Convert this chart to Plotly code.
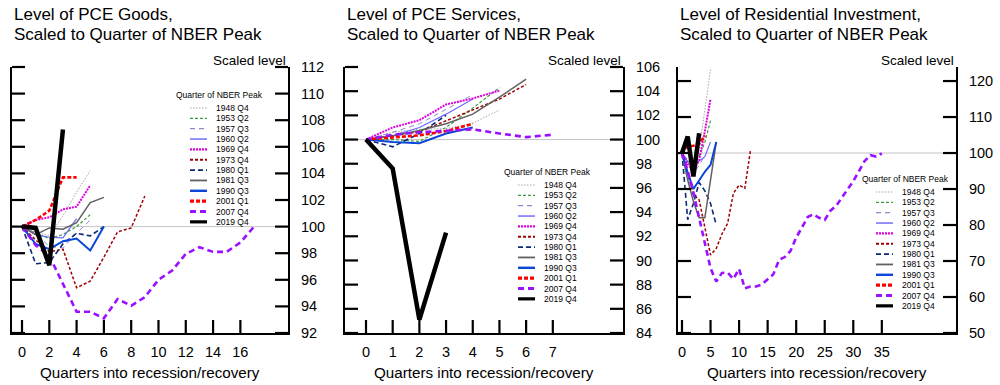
import plotly.graph_objects as go

# ---------------- data ----------------
PEAKS = ["1948 Q4", "1953 Q2", "1957 Q3", "1960 Q2", "1969 Q4", "1973 Q4",
         "1980 Q1", "1981 Q3", "1990 Q3", "2001 Q1", "2007 Q4", "2019 Q4"]

# PCE goods, scaled level (peak quarter = 100), by quarter into recession/recovery
GOODS_1948Q4 = [100, 99.6, 99.3, 100.8, 102.6, 104.2]
GOODS_1953Q2 = [100, 99.5, 99.1, 99.4, 100.0, 100.9]
GOODS_1957Q3 = [100, 99.5, 98.5, 98.4, 99.5, 100.5]
GOODS_1960Q2 = [100, 99.4, 99.2, 99.15, 100.6]
GOODS_1969Q4 = [100, 100.5, 100.7, 101.3, 101.5, 103.1]
GOODS_1973Q4 = [100, 99.0, 98.1, 98.3, 95.4, 95.9, 97.7, 99.6, 99.9, 102.3]
GOODS_1980Q1 = [100, 97.2, 97.3, 98.7, 99.5, 99.3, 100.0]
GOODS_1981Q3 = [100, 99.4, 99.9, 99.8, 100.3, 101.8, 102.2]
GOODS_1990Q3 = [100, 98.7, 98.3, 98.9, 99.1, 98.2, 100.0]
GOODS_2001Q1 = [100, 100.5, 101.2, 103.7, 103.7]
GOODS_2007Q4 = [100, 98.6, 97.8, 95.7, 93.6, 93.6, 93.1, 94.55, 94.05, 94.7, 96.0,
                96.7, 97.95, 98.45, 98.1, 98.1, 98.8, 100.0]
GOODS_2019Q4 = [100, 99.9, 97.1, 107.3]

# PCE services
SERV_1948Q4 = [100, 100.6, 100.85, 100.9, 101.35, 102.45]
SERV_1953Q2 = [100, 100.0, 99.85, 101.0, 102.6, 104.3]
SERV_1957Q3 = [100, 100.6, 101.3, 102.5, 103.7]
SERV_1960Q2 = [100, 100.3, 101.0, 102.1, 103.35]
SERV_1969Q4 = [100, 101.0, 101.6, 102.9, 103.4, 104.05]
SERV_1973Q4 = [100, 100.3, 100.65, 101.55, 102.45, 103.35, 104.55]
SERV_1980Q1 = [100, 99.4, 100.5, 102.0]
SERV_1981Q3 = [100, 100.3, 100.75, 101.3, 102.1, 103.5, 105.0]
SERV_1990Q3 = [100, 99.8, 99.7, 100.5, 101.0]
SERV_2001Q1 = [100, 100.2, 100.35, 100.7, 101.3]
SERV_2007Q4 = [100, 100.4, 100.6, 100.75, 100.85, 100.5, 100.2, 100.4]
SERV_2019Q4 = [100, 97.6, 85.1, 92.3]

# Residential investment
RES_1948Q4 = [100, 97.5, 95.0, 100.8, 111.4, 123.2]
RES_1953Q2 = [100, 98.0, 97.0, 99.0, 103.0, 109.0]
RES_1957Q3 = [100, 96.0, 94.5, 96.5, 99.5]
RES_1960Q2 = [100, 97.6, 97.0, 97.8, 99.0, 103.1]
RES_1969Q4 = [100, 97.0, 95.0, 98.0, 106.0, 115.0]
RES_1973Q4 = [100, 94.0, 88.5, 87.0, 79.0, 71.7, 73.5, 77.5, 80.5, 88.8, 91.1, 90.2, 100.8]
RES_1980Q1 = [100, 81.5, 86.0, 91.8, 89.5, 86.0, 80.0]
RES_1981Q3 = [100, 92.5, 86.5, 82.0, 82.0, 92.5, 103.0]
RES_1990Q3 = [100, 94.5, 90.0, 92.5, 94.8, 96.7, 103.1]
RES_2001Q1 = [100, 101.9, 102.0, 102.5, 104.9]
RES_2007Q4 = [100, 95.0, 89.0, 82.0, 75.0, 68.0, 64.3, 66.7, 66.8, 65.0, 67.8, 62.4,
              62.9, 62.9, 63.5, 64.8, 66.3, 70.3, 71.1, 72.8, 76.5, 79.3, 82.2, 83.0,
              82.0, 81.4, 84.0, 85.3, 87.5, 89.8, 92.2, 95.0, 97.8, 99.4, 99.0, 99.9]
RES_2019Q4 = [100, 104.6, 93.5, 105.5]

X_TICKS_GOODS = [0, 2, 4, 6, 8, 10, 12, 14, 16]
Y_TICKS_GOODS = [92, 94, 96, 98, 100, 102, 104, 106, 108, 110, 112]
X_TICKS_SERV = [0, 1, 2, 3, 4, 5, 6, 7]
Y_TICKS_SERV = [84, 86, 88, 90, 92, 94, 96, 98, 100, 102, 104, 106]
X_TICKS_RES = [0, 5, 10, 15, 20, 25, 30, 35]
Y_TICKS_RES = [50, 60, 70, 80, 90, 100, 110, 120]

GOODS = [GOODS_1948Q4, GOODS_1953Q2, GOODS_1957Q3, GOODS_1960Q2, GOODS_1969Q4, GOODS_1973Q4,
         GOODS_1980Q1, GOODS_1981Q3, GOODS_1990Q3, GOODS_2001Q1, GOODS_2007Q4, GOODS_2019Q4]
SERV = [SERV_1948Q4, SERV_1953Q2, SERV_1957Q3, SERV_1960Q2, SERV_1969Q4, SERV_1973Q4,
        SERV_1980Q1, SERV_1981Q3, SERV_1990Q3, SERV_2001Q1, SERV_2007Q4, SERV_2019Q4]
RES = [RES_1948Q4, RES_1953Q2, RES_1957Q3, RES_1960Q2, RES_1969Q4, RES_1973Q4,
       RES_1980Q1, RES_1981Q3, RES_1990Q3, RES_2001Q1, RES_2007Q4, RES_2019Q4]

# ---------------- styles ----------------
STYLES = [
    dict(color="#a6a6a6", width=1.0, dash="1.5px,1.5px"),
    dict(color="#3c9a3c", width=1.2, dash="3px,2px"),
    dict(color="#8a8ad0", width=1.0, dash="5px,4px"),
    dict(color="#6a6aff", width=1.2, dash="solid"),
    dict(color="#e000e0", width=2.0, dash="2px,1px"),
    dict(color="#a00000", width=1.5, dash="3px,2px"),
    dict(color="#0a2a78", width=1.6, dash="5px,3px"),
    dict(color="#606060", width=1.5, dash="solid"),
    dict(color="#0a46d8", width=2.0, dash="solid"),
    dict(color="#ff0000", width=2.6, dash="4px,2px"),
    dict(color="#9b10ff", width=2.6, dash="6px,4px"),
    dict(color="#000000", width=4.5, dash="solid"),
]

FONT = "Liberation Sans, Arial, sans-serif"
W, H = 1000, 385
Y_TOP, Y_BOT = 67, 333
TICK_LEN = 13
TICK_COLOR = "black"


def px(x):
    return x / W


def py(y):
    return 1 - y / H


panels = [
    dict(t1="Level of PCE Goods,", t2="Scaled to Quarter of NBER Peak", data=GOODS,
         xdom=(12, 288), xr=[-0.733, 19.49], yr=[92, 112], xt=X_TICKS_GOODS, yt=Y_TICKS_GOODS,
         leg=(174, 95, 108)),
    dict(t1="Level of PCE Services,", t2="Scaled to Quarter of NBER Peak", data=SERV,
         xdom=(345, 623), xr=[-0.787, 9.63], yr=[84, 106], xt=X_TICKS_SERV, yt=Y_TICKS_SERV,
         leg=(502, 172, 185)),
    dict(t1="Level of Residential Investment,", t2="Scaled to Quarter of NBER Peak", data=RES,
         xdom=(678, 956), xr=[-0.70, 47.99], yr=[50, 123.9], xt=X_TICKS_RES, yt=Y_TICKS_RES,
         leg=(860, 179, 192)),
]

fig = go.Figure()
shapes = []
annotations = []

for i, p in enumerate(panels, start=1):
    xa = "x" if i == 1 else f"x{i}"
    ya = "y" if i == 1 else f"y{i}"
    xd0, xd1 = p["xdom"]
    x0r, x1r = p["xr"]
    y0r, y1r = p["yr"]

    for name, vals, st in zip(PEAKS, p["data"], STYLES):
        fig.add_trace(go.Scatter(
            x=list(range(len(vals))), y=vals, mode="lines", name=name,
            line=dict(color=st["color"], width=st["width"], dash=st["dash"]),
            xaxis=xa, yaxis=ya, showlegend=False, hoverinfo="skip"))

    axis_common = dict(showline=True, linecolor="black", linewidth=2, ticks="",
                       showgrid=False, zeroline=False, automargin=False,
                       tickfont=dict(family=FONT, size=14.5, color="black"))
    fig.update_layout(**{
        ("xaxis" if i == 1 else f"xaxis{i}"): dict(
            domain=[px(xd0), px(xd1)], range=p["xr"],
            tickmode="array", tickvals=p["xt"], anchor=ya, ticklabelstandoff=5, **axis_common),
        ("yaxis" if i == 1 else f"yaxis{i}"): dict(
            domain=[py(Y_BOT), py(Y_TOP)], range=p["yr"], tickmode="array", tickvals=p["yt"],
            side="right", mirror=True, anchor=xa, ticklabelstandoff=8, **axis_common),
    })

    # tick marks, placed in paper coordinates from the axis scales
    for v in p["yt"]:
        ypx = Y_BOT - (v - y0r) / (y1r - y0r) * (Y_BOT - Y_TOP)
        shapes.append(dict(type="line", xref="paper", yref="paper", x0=px(xd0), x1=px(xd0 + TICK_LEN),
                           y0=py(ypx), y1=py(ypx), line=dict(color=TICK_COLOR, width=2.2)))
        shapes.append(dict(type="line", xref="paper", yref="paper", x0=px(xd1 - TICK_LEN), x1=px(xd1),
                           y0=py(ypx), y1=py(ypx), line=dict(color=TICK_COLOR, width=2.2)))
    for v in p["xt"]:
        xpx = xd0 + (v - x0r) / (x1r - x0r) * (xd1 - xd0)
        shapes.append(dict(type="line", xref="paper", yref="paper", x0=px(xpx), x1=px(xpx),
                           y0=py(Y_BOT), y1=py(Y_BOT - TICK_LEN), line=dict(color=TICK_COLOR, width=2.2)))

    # reference line at 100
    shapes.append(dict(type="line", xref=f"{xa} domain", yref=ya, x0=0, x1=1, y0=100, y1=100,
                       line=dict(color="#c4c4c4", width=1), layer="below"))

    # titles
    annotations.append(dict(text=p["t1"], x=px(xd0), y=py(14), xref="paper", yref="paper",
                            xanchor="left", yanchor="middle", showarrow=False,
                            font=dict(family=FONT, size=17, color="black")))
    annotations.append(dict(text=p["t2"], x=px(xd0), y=py(34), xref="paper", yref="paper",
                            xanchor="left", yanchor="middle", showarrow=False,
                            font=dict(family=FONT, size=17, color="black")))
    annotations.append(dict(text="Scaled level", x=px(xd1), y=py(60), xref="paper",
                            yref="paper", xanchor="right", yanchor="middle", showarrow=False,
                            font=dict(family=FONT, size=13.5, color="black")))
    annotations.append(dict(text="Quarters into recession/recovery",
                            x=px((xd0 + xd1) / 2), y=py(372), xref="paper",
                            yref="paper", xanchor="center", yanchor="middle", showarrow=False,
                            font=dict(family=FONT, size=15.2, color="black")))

    # compact legend
    lx, ty, ey = p["leg"]
    annotations.append(dict(text="Quarter of NBER Peak", x=px(lx), y=py(ty), xref="paper",
                            yref="paper", xanchor="left", yanchor="middle", showarrow=False,
                            font=dict(family=FONT, size=8.5, color="black")))
    for k, (name, st) in enumerate(zip(PEAKS, STYLES)):
        yy = ey + k * 10.35
        lw = min(st["width"] * 1.2, 3.2)
        shapes.append(dict(type="line", xref="paper", yref="paper", x0=px(lx + 16), x1=px(lx + 33),
                           y0=py(yy), y1=py(yy),
                           line=dict(color=st["color"], width=lw, dash=st["dash"])))
        annotations.append(dict(text=name, x=px(lx + 40), y=py(yy), xref="paper", yref="paper",
                                xanchor="left", yanchor="middle", showarrow=False,
                                font=dict(family=FONT, size=8.5, color="black")))

fig.update_layout(template="none", width=W, height=H, margin=dict(l=0, r=0, t=0, b=0, pad=0),
                  paper_bgcolor="white", plot_bgcolor="white", showlegend=False,
                  shapes=shapes, annotations=annotations)

fig.write_html("out.html", config={"displayModeBar": False},
               post_script="document.body.style.margin='0px';document.body.style.overflow='hidden';")
